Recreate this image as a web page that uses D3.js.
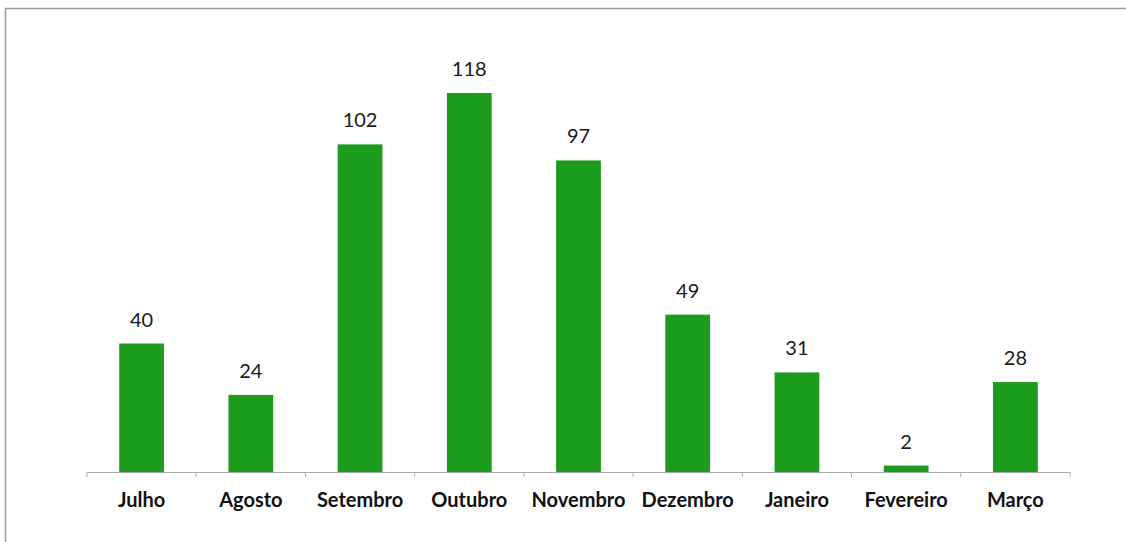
<!DOCTYPE html>
<html>
<head>
<meta charset="utf-8">
<script src="https://cdn.jsdelivr.net/npm/d3@7"></script>
<style>
  body { margin: 0; background: #fff; }
  .value { font-family: Lato, "Open Sans", sans-serif; font-size: 20px; fill: #1a1a1a; }
  .cat { font-family: Lato, "Open Sans", sans-serif; font-size: 20px; font-weight: 700; fill: #111; }
</style>
</head>
<body>
<div class="chart"></div>
<script>
// months and counts
let months = ["Julho", "Agosto", "Setembro", "Outubro", "Novembro", "Dezembro", "Janeiro", "Fevereiro", "Março"];
let counts = [40, 24, 102, 118, 97, 49, 31, 2, 28];

let outerWidth = 1126,
  outerHeight = 542;

let margin = { top: 0, left: 87, right: 56, bottom: 0 };
let axisY = 472; // baseline of the bars

let svg = d3
  .select(".chart")
  .append("svg")
  .attr("width", outerWidth)
  .attr("height", outerHeight);

// frame round the chart (runs off right and bottom)
svg
  .append("rect")
  .attr("x", 5.5)
  .attr("y", 8.5)
  .attr("width", outerWidth + 20)
  .attr("height", outerHeight)
  .attr("fill", "none")
  .attr("stroke", "#9a9a9a")
  .attr("stroke-width", 1.5);

let x = d3
  .scaleBand()
  .domain(months)
  .range([margin.left, outerWidth - margin.right])
  .paddingInner(0.59)
  .paddingOuter(0.295);

let y = d3.scaleLinear().domain([0, 118]).range([axisY, 93]);

svg
  .selectAll(".bar")
  .data(counts)
  .enter()
  .append("rect")
  .attr("class", "bar")
  .attr("x", (d, i) => x(months[i]))
  .attr("y", (d) => y(d))
  .attr("width", x.bandwidth())
  .attr("height", (d) => axisY - y(d))
  .attr("fill", "#1c9c1c");

// axis line with ticks between categories
let xAxis = d3.axisBottom(x).tickSize(0).tickFormat("");
svg
  .append("g")
  .attr("transform", "translate(0," + axisY + ")")
  .call(xAxis)
  .call((g) => g.select(".domain").attr("stroke", "#aaa"));

let step = x.step();
let bounds = d3.range(months.length + 1).map((i) => margin.left + i * step);
svg
  .selectAll(".tick-mark")
  .data(bounds)
  .enter()
  .append("line")
  .attr("x1", (d) => d)
  .attr("x2", (d) => d)
  .attr("y1", axisY)
  .attr("y2", axisY + 5)
  .attr("stroke", "#aaa");

// value labels
svg
  .selectAll(".value")
  .data(counts)
  .enter()
  .append("text")
  .attr("class", "value")
  .attr("text-anchor", "middle")
  .attr("x", (d, i) => x(months[i]) + x.bandwidth() / 2)
  .attr("y", (d) => y(d) - 17)
  .text((d) => d);

// month labels
svg
  .selectAll(".cat")
  .data(months)
  .enter()
  .append("text")
  .attr("class", "cat")
  .attr("text-anchor", "middle")
  .attr("x", (d) => x(d) + x.bandwidth() / 2)
  .attr("y", 507)
  .text((d) => d);
</script>
</body>
</html>
